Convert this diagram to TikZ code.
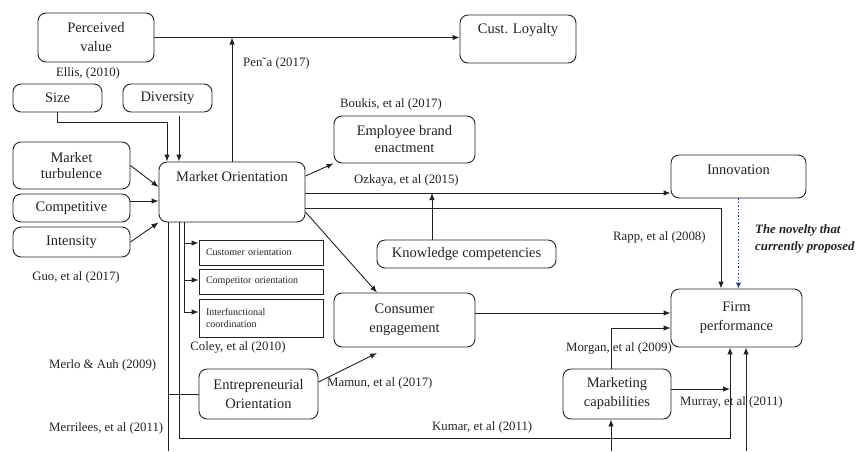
\documentclass[tikz,border=0pt]{standalone}
\usepackage{fontspec}
\setmainfont{Liberation Serif}
\usetikzlibrary{arrows.meta,calc}
\definecolor{ink}{HTML}{222222}
\definecolor{novelblue}{HTML}{1F3D7A}
\begin{document}
\begin{tikzpicture}[x=1pt,y=-1pt,
  box/.style={draw=ink, line width=0.9pt, rounded corners=8pt, align=center, inner sep=0pt, text=ink, font=\fontsize{14.5}{19}\selectfont},
  sbox/.style={draw=ink, line width=0.9pt, inner xsep=7pt, inner ysep=0pt, text width=110pt, align=left, text=ink, font=\fontsize{10}{12.5}\selectfont},
  lbl/.style={font=\fontsize{12.8}{15}\selectfont, inner sep=0pt, text=ink},
  btxt/.style={font=\fontsize{14.5}{19}\selectfont, inner sep=0pt, text=ink},
  arr/.style={draw=ink, line width=0.9pt, -{Latex[length=7pt,width=5.5pt]}},
  ln/.style={draw=ink, line width=0.9pt},
  novel/.style={draw=novelblue, line width=1.4pt, dotted, -{Latex[length=6pt,width=5.5pt]}}
]
\useasboundingbox (0,0) rectangle (856,451);

% ---------- boxes ----------
\node[box, minimum width=116pt, minimum height=49pt] (pv) at (96,37.5) {Perceived\\value};
\node[box, minimum width=116pt, minimum height=48pt] (cl) at (518,39) {};
\node[btxt] (cl-t) at ([yshift=-15pt]cl.north) {Cust. Loyalty};
\node[box, minimum width=89pt, minimum height=28pt] (size) at (57.5,98) {Size};
\node[box, minimum width=89pt, minimum height=28pt] (div) at (167.5,98) {Diversity};
\node[box, minimum width=117pt, minimum height=47pt, font=\fontsize{14.5}{16.5}\selectfont] (mt) at (71.5,165.5) {Market\\turbulence};
\node[box, minimum width=117pt, minimum height=28pt] (comp) at (71.5,208) {Competitive};
\node[box, minimum width=117pt, minimum height=30pt] (int) at (71.5,242) {Intensity};
\node[box, minimum width=146pt, minimum height=60pt] (mo) at (232,192) {};
\node[btxt] (mo-t) at ([yshift=-15pt]mo.north) {Market Orientation};
\node[box, minimum width=141pt, minimum height=47pt, font=\fontsize{14.5}{17}\selectfont] (ebe) at (404.5,139.5) {Employee brand\\enactment};
\node[box, minimum width=135pt, minimum height=43pt] (inn) at (738.5,176.5) {};
\node[btxt] (inn-t) at ([yshift=-15pt]inn.north) {Innovation};
\node[box, minimum width=179pt, minimum height=28pt] (kc) at (466.5,254) {Knowledge competencies};
\node[sbox, minimum height=25pt] (co) at (261,252.5) {Customer orientation};
\node[sbox, minimum height=25pt] (cmp) at (261,281.5) {Competitor orientation};
\node[sbox, minimum height=38pt] (ifc) at (261,318) {Interfunctional\\coordination};
\node[box, minimum width=141pt, minimum height=54pt] (ce) at (404.5,320) {Consumer\\engagement};
\node[box, minimum width=131pt, minimum height=58pt] (fp) at (736.5,318) {Firm\\performance};
\node[box, minimum width=119pt, minimum height=50pt] (eo) at (258.5,394) {Entrepreneurial\\Orientation};
\node[box, minimum width=108pt, minimum height=50pt] (mc) at (617,394) {Marketing\\capabilities};

% ---------- labels ----------
\node[lbl] (l-ellis) at (88,73) {Ellis, (2010)};
\node[lbl, anchor=west] (l-pena) at (243,63) {Pen˜a (2017)};
\node[lbl, anchor=west] (l-boukis) at (340,104) {Boukis, et al (2017)};
\node[lbl, anchor=west] (l-ozkaya) at (354,180) {Ozkaya, et al (2015)};
\node[lbl, anchor=west] (l-rapp) at (613,237) {Rapp, et al (2008)};
\node[anchor=west, inner sep=0pt, align=left, text=ink, font=\fontsize{12.8}{17}\selectfont\bfseries\itshape] (l-novel) at (755,238.5) {The novelty that\\currently proposed};
\node[lbl] (l-guo) at (76,277) {Guo, et al (2017)};
\node[lbl] (l-coley) at (238,347) {Coley, et al (2010)};
\node[lbl, anchor=west] (l-merlo) at (49,365) {Merlo \& Auh (2009)};
\node[lbl, anchor=west] (l-mamun) at (327,383) {Mamun, et al (2017)};
\node[lbl, anchor=west] (l-morgan) at (566,348) {Morgan, et al (2009)};
\node[lbl, anchor=west] (l-murray) at (680,402) {Murray, et al (2011)};
\node[lbl, anchor=west] (l-kumar) at (432,427) {Kumar, et al (2011)};
\node[lbl, anchor=west] (l-merri) at (49,428) {Merrilees, et al (2011)};

% ---------- helper coordinates ----------
\coordinate (s1) at (167,122);
\coordinate (d1) at (179,116);
\coordinate (kx) at (432,193);
\coordinate (v1) at (168,451);
\coordinate (v2) at (179,438);
\coordinate (v3) at (184,312);
\coordinate (h730) at (730,389);
\coordinate (eoce) at (377,353);
\coordinate (b611) at (611,451);
\coordinate (b746) at (746,451);

% ---------- connectors ----------
\draw[arr] (pv.east) -- (pv.east -| cl.west);
\draw[arr] (mo.north) -- (mo.north |- pv.east);
\draw[arr] (size.south) |- (s1) -- (s1 |- mo.north);
\draw[arr] (d1) -- (d1 |- mo.north);
\draw[arr] (mt.east) -- ([yshift=5pt]mo.west);
\draw[arr] ([yshift=7pt]comp.east) -- ([yshift=7pt]comp.east -| mo.west);
\draw[arr] (int.east) -- (mo.south west);
\draw[arr] ([yshift=16pt]mo.east) -- (ebe.south west);
\draw[arr] ([yshift=-1pt]mo.east) -- ([yshift=-1pt]mo.east -| inn.west);
\draw[arr] (kx |- kc.north) -- (kx);
\draw[arr] ([yshift=-16pt]mo.east) -| ([xshift=-15.5pt]fp.north);
\draw[novel] (inn.south) -- (inn.south |- fp.north);
\draw[arr] ([yshift=-20pt]mo.east) -- ([xshift=-27.5pt]ce.north);

% left branch lines
\draw[ln] (v3 |- mo.south) -- (v3);
\draw[arr] (co.west -| v3) ++(0,-9.5) coordinate (c1) -- (c1 -| co.west);
\draw[arr] ([yshift=1.5pt]cmp.west -| v3) -- ([yshift=1.5pt]cmp.west);
\draw[arr] (v3) -- (v3 -| ifc.west);
\draw[arr] (v2 |- mo.south) -- (v2) -| ([xshift=-6.5pt]fp.south);
\draw[ln] (v1 |- mo.south) -- (v1);
\draw[ln] (eo.west) -- (eo.west -| v1);

\draw[arr] ([yshift=12pt]eo.east) -- (eoce);
\draw[arr] ([yshift=7pt]ce.east) -- ([yshift=7pt]ce.east -| fp.west);
\draw[arr] ([xshift=-6pt]mc.north) |- ([yshift=-10pt]fp.west);
\draw[arr] ([yshift=5pt]mc.east) -- (h730);
\draw[arr] (b611) -- (b611 |- mc.south);
\draw[arr] (b746) -- (b746 |- fp.south);
\end{tikzpicture}
\end{document}
